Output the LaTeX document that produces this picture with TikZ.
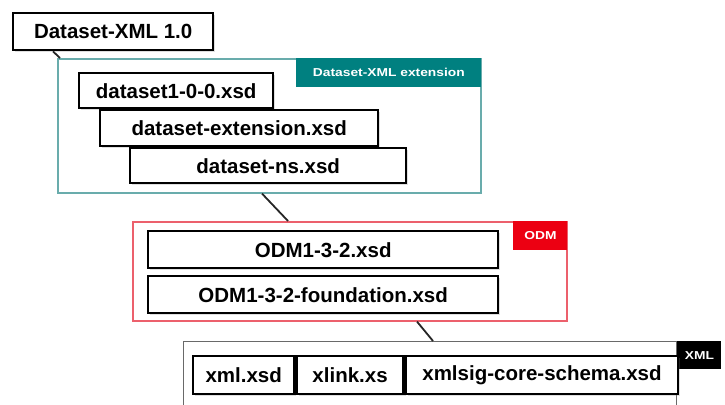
\documentclass[tikz,border=0pt]{standalone}
\usepackage{fontspec}
\setmainfont{Liberation Sans}
\newfontfamily\tagfont[FakeStretch=1.2]{Liberation Sans}
\usetikzlibrary{shadows}

\definecolor{tealtag}{RGB}{0,128,128}
\definecolor{tealline}{RGB}{105,172,172}
\definecolor{odmred}{RGB}{236,0,18}
\definecolor{odmline}{RGB}{236,96,108}
\definecolor{xmlline}{RGB}{105,105,105}

\begin{document}
\begin{tikzpicture}[x=1pt,y=-1pt,
    file/.style={draw=black,line width=2.4pt,fill=white,anchor=north west,inner sep=0pt,
                 font=\fontsize{20.5}{24}\selectfont\bfseries,
                 drop shadow={opacity=0.25,shadow xshift=2pt,shadow yshift=-2pt}},
    group/.style={line width=1.6pt,fill=white,anchor=north west,inner sep=0pt},
    tag/.style={text=white,inner sep=0pt,font=\tagfont\bfseries\fontsize{11.5}{13}\selectfont},
    link/.style={line width=1.8pt,draw=black!85}]
  \useasboundingbox (0,0) rectangle (725,404);

  % group frames
  \node[group,draw=tealline,minimum width=423pt,minimum height=134pt] (extgrp) at (57,58) {};
  \node[group,draw=odmline,minimum width=434pt,minimum height=99pt]   (odmgrp) at (132,221) {};
  \node[group,draw=xmlline,line width=1.2pt,minimum width=493pt,minimum height=80pt] (xmlgrp) at (183,341) {};

  \node[tag,fill=tealtag,anchor=north east,minimum width=185pt,minimum height=29pt] (exttag) at (extgrp.north east) {Dataset-XML extension};
  \node[tag,fill=odmred,anchor=north east,minimum width=54pt,minimum height=29pt]   (odmtag) at (odmgrp.north east) {ODM};
  \node[tag,fill=black,anchor=north west,minimum width=44pt,minimum height=28pt]    (xmltag) at (xmlgrp.north east) {XML};

  % top level
  \node[file,minimum width=200pt,minimum height=37pt] (dsxml) at (12,12) {Dataset-XML 1.0};

  % connectors
  \draw[link] ([xshift=41pt]dsxml.south west) -- ([xshift=3pt]extgrp.north west);
  \draw[link] ([xshift=205pt]extgrp.south west) -- ([xshift=156pt]odmgrp.north west);
  \draw[link] ([xshift=285pt]odmgrp.south west) -- ([xshift=250pt]xmlgrp.north west);

  % schema files
  \node[file,minimum width=194pt,minimum height=35pt] (ds100) at (78,72)  {dataset1-0-0.xsd};
  \node[file,minimum width=278pt,minimum height=36pt] (dsext) at (99,109) {dataset-extension.xsd};
  \node[file,minimum width=276pt,minimum height=35pt] (dsns)  at (129,147) {dataset-ns.xsd};

  \node[file,minimum width=350pt,minimum height=37pt] (odm)   at (147,230) {ODM1-3-2.xsd};
  \node[file,minimum width=350pt,minimum height=37pt] (odmfd) at (147,275) {ODM1-3-2-foundation.xsd};

  \node[file,minimum width=101pt,minimum height=38pt] (xmlxsd) at (192,355) {xml.xsd};
  \node[file,minimum width=107pt,minimum height=38pt] (xlink)  at (xmlxsd.north east) {xlink.xs};
  \node[file,minimum width=272pt,minimum height=38pt] (xmlsig) at (xlink.north east) {xmlsig-core-schema.xsd};
\end{tikzpicture}
\end{document}
